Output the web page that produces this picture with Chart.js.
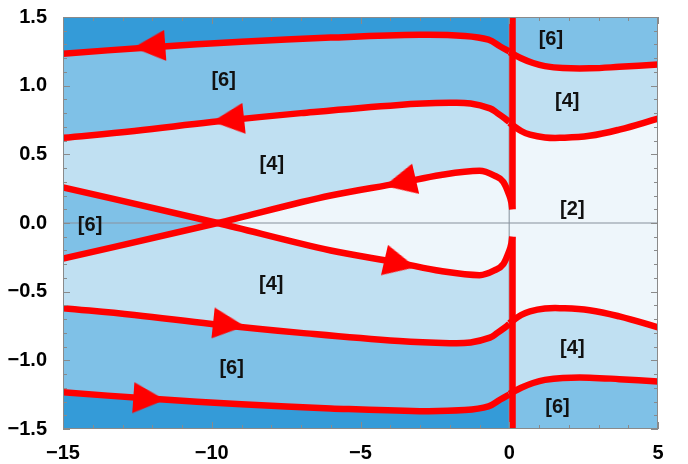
<!DOCTYPE html>
<html>
<head>
<meta charset="utf-8">
<script src="https://cdn.jsdelivr.net/npm/chart.js@4.4.0/dist/chart.umd.min.js"></script>
<style>
  html, body { margin: 0; padding: 0; background: #fff; }
  #box { width: 688px; height: 464px; position: relative; }
</style>
</head>
<body>
<div id="box"><canvas id="myChart"></canvas></div>
<script>
// curves on the left of the cut (x from -15 to 0)
const xA = [-15, -12, -9, -6, -3, -1.5, -0.7, -0.3, 0];
const curveA = [1.233, 1.28, 1.32, 1.35, 1.37, 1.362, 1.335, 1.285, 1.25];
const curveF = [-1.233, -1.28, -1.32, -1.35, -1.37, -1.362, -1.335, -1.285, -1.25];
const xB = [-15, -12.6, -10, -7, -3.7, -2, -1.3, -0.65, -0.4, -0.14, 0];
const curveB = [0.62, 0.67, 0.735, 0.80, 0.86, 0.875, 0.87, 0.835, 0.80, 0.76, 0.735];
const curveE = [-0.62, -0.67, -0.735, -0.80, -0.86, -0.875, -0.87, -0.835, -0.80, -0.76, -0.735];
const xD = [-15, -9.8, -6, -3.7, -2.3, -1, -0.5, -0.2, -0.03, 0.07, 0.1];
const curveD = [-0.26, 0, 0.2, 0.29, 0.35, 0.38, 0.345, 0.30, 0.22, 0.15, 0.10];
const curveC = [0.26, 0, -0.2, -0.29, -0.35, -0.38, -0.345, -0.30, -0.22, -0.15, -0.10];

// curves on the right of the cut (x from 0 to 5)
const xG = [0, 0.4, 0.8, 1.2, 1.8, 2.7, 3.7, 5];
const curveG = [1.245, 1.20, 1.165, 1.142, 1.128, 1.126, 1.137, 1.155];
const curveGn = [-1.245, -1.20, -1.165, -1.142, -1.128, -1.126, -1.137, -1.155];
const xH = [0, 0.4, 0.7, 1.2, 1.7, 2.7, 3.7, 5];
const curveH = [0.73, 0.67, 0.643, 0.623, 0.62, 0.635, 0.68, 0.76];
const curveHn = [-0.73, -0.67, -0.643, -0.623, -0.62, -0.635, -0.68, -0.76];

// the cut (vertical red line)
const cutX = 0.11;
const cutUpper = [0.1, 1.5];
const cutLower = [-0.1, -1.5];

// arrow heads
const arrowX = [-12.1, -9.45, -3.67, -3.67, -9.42, -12.1];
const arrowY = [1.285, 0.75, 0.296, -0.296, -0.74, -1.28];

// region labels
const labelText = ['[6]', '[4]', '[2]', '[4]', '[6]', '[6]', '[4]', '[6]', '[4]', '[6]'];
const labelX = [1.4, 1.95, 2.12, 2.12, 1.62, -9.6, -7.98, -14.09, -8.0, -9.33];
const labelY = [1.335, 0.885, 0.10, -0.915, -1.343, 1.04, 0.428, -0.02, -0.449, -1.062];

const xTicks = [-15, -10, -5, 0, 5];
const yTicks = [-1.5, -1.0, -0.5, 0.0, 0.5, 1.0, 1.5];

const DARK = 'rgb(52,155,216)';
const MID = 'rgb(127,193,231)';
const LIGHT = 'rgb(192,224,242)';
const PALE = 'rgb(238,246,251)';
const RED = '#ff0000';
const FONT = '"Liberation Sans", Arial, sans-serif';

function pts(xs, ys) {
    return xs.map((x, i) => ({ x: x, y: ys[i] }));
}

// smooth: 'm' = monotone cubic, otherwise bezier with tension
function shape(mode) {
    return mode === 'm' ? { cubicInterpolationMode: 'monotone' } : { tension: 0.4 };
}

function area(xs, ys, fill, color, order, mode) {
    return Object.assign({
        data: pts(xs, ys), fill: fill, backgroundColor: color,
        borderWidth: 0, pointRadius: 0, order: order
    }, shape(mode));
}

function curve(xs, ys, mode) {
    return Object.assign({
        data: pts(xs, ys), fill: false, borderColor: RED, borderWidth: 6.5,
        pointRadius: 0, borderCapStyle: 'butt', order: 10
    }, shape(mode));
}

// arrow head image, pointing right
const arrowImg = document.createElement('canvas');
arrowImg.width = 32;
arrowImg.height = 31;
(function () {
    const c = arrowImg.getContext('2d');
    c.fillStyle = RED;
    c.beginPath();
    c.moveTo(32, 15.5);
    c.lineTo(0, 0);
    c.lineTo(0, 31);
    c.closePath();
    c.fill();
})();

const datasets = [
    area(xA, curveA, 'end', DARK, 100),                       // 0
    area(xA, curveF, 'start', DARK, 100),                     // 1
    area(xA, curveA, 1, MID, 99),                             // 2
    area(xB, curveB, 4, LIGHT, 98),                           // 3
    area(xB, curveE, false, LIGHT, 98),                       // 4
    area(xD, curveD, { target: 6, above: PALE, below: MID }, PALE, 97, 'm'), // 5
    area(xD, curveC, false, PALE, 97, 'm'),                   // 6
    area(xG, curveG, 'end', MID, 96),                         // 7
    area(xG, curveGn, 'start', MID, 96),                      // 8
    area(xG, curveG, 8, LIGHT, 95),                           // 9
    area(xH, curveH, 11, PALE, 94),                           // 10
    area(xH, curveHn, false, PALE, 94),                       // 11
    // axes at zero
    { data: pts([-15, 5], [0, 0]), borderColor: 'rgba(140,150,160,0.7)', borderWidth: 1.5, pointRadius: 0, fill: false, order: 50 },
    { data: pts([0, 0], [-1.5, 1.5]), borderColor: 'rgba(140,150,160,0.7)', borderWidth: 1.5, pointRadius: 0, fill: false, order: 50 },
    curve(xA, curveA), curve(xA, curveF),
    curve(xB, curveB), curve(xB, curveE),
    curve(xD, curveD, 'm'), curve(xD, curveC, 'm'),
    curve(xG, curveG), curve(xG, curveGn),
    curve(xH, curveH), curve(xH, curveHn),
    curve([cutX, cutX], cutUpper), curve([cutX, cutX], cutLower),
    {
        data: pts(arrowX, arrowY), showLine: false, fill: false,
        pointStyle: arrowImg, pointRadius: 16,
        pointRotation: [176, 174, 167, 13, 6, 4],
        order: 1
    }
];

// frame with inward ticks, plus region labels
const framePlugin = {
    id: 'frame',
    afterDatasetsDraw(chart) {
        const ctx = chart.ctx;
        const a = chart.chartArea;
        const xs = chart.scales.x, ys = chart.scales.y;
        ctx.save();
        ctx.strokeStyle = '#8a8a8a';
        ctx.lineWidth = 1;
        ctx.beginPath();
        for (let v = -15; v <= 5; v += 1) {
            const px = Math.round(xs.getPixelForValue(v)) + 0.5;
            const len = v % 5 === 0 ? 7 : 4;
            ctx.moveTo(px, a.bottom); ctx.lineTo(px, a.bottom - len);
            ctx.moveTo(px, a.top); ctx.lineTo(px, a.top + len);
        }
        for (let k = -15; k <= 15; k++) {
            const py = Math.round(ys.getPixelForValue(k / 10)) + 0.5;
            const len = k % 5 === 0 ? 7 : 4;
            ctx.moveTo(a.left, py); ctx.lineTo(a.left + len, py);
            ctx.moveTo(a.right, py); ctx.lineTo(a.right - len, py);
        }
        ctx.stroke();
        ctx.strokeRect(a.left + 0.5, a.top + 0.5, a.right - a.left - 1, a.bottom - a.top - 1);

        ctx.fillStyle = '#111';
        ctx.font = 'bold 20px ' + FONT;
        ctx.textAlign = 'center';
        ctx.textBaseline = 'middle';
        labelText.forEach((t, i) => {
            ctx.fillText(t, xs.getPixelForValue(labelX[i]), ys.getPixelForValue(labelY[i]));
        });
        ctx.restore();
    }
};

const ctx = document.getElementById('myChart').getContext('2d');
const myChart = new Chart(ctx, {
    type: 'line',
    data: { datasets: datasets },
    options: {
        responsive: true,
        maintainAspectRatio: false,
        animation: false,
        layout: { padding: { left: 0, right: 30, top: 13, bottom: 0 } },
        plugins: {
            legend: { display: false },
            tooltip: { enabled: false },
            filler: { propagate: false }
        },
        scales: {
            x: {
                type: 'linear', min: -15, max: 5,
                afterBuildTicks: s => { s.ticks = xTicks.map(v => ({ value: v })); },
                afterFit: s => { s.height = 35; s.paddingLeft = 0; s.paddingRight = 0; },
                grid: { display: false },
                border: { display: false },
                ticks: {
                    autoSkip: false, maxRotation: 0, padding: 4,
                    color: '#000', font: { family: FONT, size: 20, weight: 'bold' },
                    callback: v => String(v).replace('-', '\u2212')
                }
            },
            y: {
                type: 'linear', min: -1.5, max: 1.5,
                afterBuildTicks: s => { s.ticks = yTicks.map(v => ({ value: v })); },
                afterFit: s => { s.width = 63; s.paddingTop = 0; s.paddingBottom = 0; },
                grid: { display: false },
                border: { display: false },
                ticks: {
                    autoSkip: false, padding: 8,
                    color: '#000', font: { family: FONT, size: 20, weight: 'bold' },
                    callback: v => v.toFixed(1).replace('-', '\u2212')
                }
            }
        }
    },
    plugins: [framePlugin]
});
</script>
</body>
</html>
